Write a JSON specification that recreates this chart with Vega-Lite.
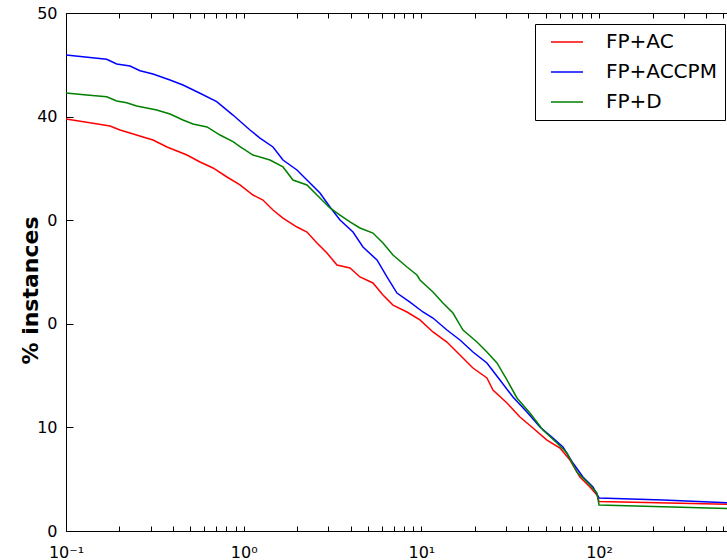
{
  "$schema": "https://vega.github.io/schema/vega-lite/v6.json",
  "width": 661,
  "height": 518,
  "autosize": {"type": "none"},
  "padding": {"left": 66, "top": 13, "right": 0, "bottom": 29},
  "background": "white",
  "config": {
    "font": "DejaVu Sans",
    "view": {"stroke": null},
    "axis": {
      "domainColor": "black",
      "domainWidth": 1,
      "labelColor": "black",
      "labelFont": "DejaVu Sans",
      "labelFontSize": 16,
      "labelFlush": false,
      "labelOverlap": false,
      "labelBound": false
    }
  },
  "data": {
    "values": [
      {"s": "FP+AC", "x": 0.1, "y": 39.77},
      {"s": "FP+AC", "x": 0.1419, "y": 39.35},
      {"s": "FP+AC", "x": 0.1768, "y": 39.09},
      {"s": "FP+AC", "x": 0.2013, "y": 38.71},
      {"s": "FP+AC", "x": 0.2292, "y": 38.42},
      {"s": "FP+AC", "x": 0.2713, "y": 38.03},
      {"s": "FP+AC", "x": 0.3088, "y": 37.74},
      {"s": "FP+AC", "x": 0.3702, "y": 37.07},
      {"s": "FP+AC", "x": 0.4214, "y": 36.68},
      {"s": "FP+AC", "x": 0.4797, "y": 36.29},
      {"s": "FP+AC", "x": 0.5678, "y": 35.62},
      {"s": "FP+AC", "x": 0.6719, "y": 35.04},
      {"s": "FP+AC", "x": 0.8054, "y": 34.17},
      {"s": "FP+AC", "x": 0.9532, "y": 33.4},
      {"s": "FP+AC", "x": 1.128, "y": 32.43},
      {"s": "FP+AC", "x": 1.284, "y": 31.95},
      {"s": "FP+AC", "x": 1.462, "y": 30.98},
      {"s": "FP+AC", "x": 1.664, "y": 30.21},
      {"s": "FP+AC", "x": 1.995, "y": 29.34},
      {"s": "FP+AC", "x": 2.271, "y": 28.86},
      {"s": "FP+AC", "x": 2.585, "y": 27.8},
      {"s": "FP+AC", "x": 2.943, "y": 26.83},
      {"s": "FP+AC", "x": 3.35, "y": 25.68},
      {"s": "FP+AC", "x": 3.965, "y": 25.39},
      {"s": "FP+AC", "x": 4.513, "y": 24.52},
      {"s": "FP+AC", "x": 5.341, "y": 23.94},
      {"s": "FP+AC", "x": 6.081, "y": 22.78},
      {"s": "FP+AC", "x": 6.922, "y": 21.81},
      {"s": "FP+AC", "x": 8.299, "y": 21.14},
      {"s": "FP+AC", "x": 9.819, "y": 20.37},
      {"s": "FP+AC", "x": 11.62, "y": 19.21},
      {"s": "FP+AC", "x": 13.93, "y": 18.24},
      {"s": "FP+AC", "x": 16.49, "y": 16.99},
      {"s": "FP+AC", "x": 19.52, "y": 15.73},
      {"s": "FP+AC", "x": 23.39, "y": 14.77},
      {"s": "FP+AC", "x": 25.29, "y": 13.61},
      {"s": "FP+AC", "x": 30.32, "y": 12.36},
      {"s": "FP+AC", "x": 35.88, "y": 11.0},
      {"s": "FP+AC", "x": 42.46, "y": 9.94},
      {"s": "FP+AC", "x": 50.92, "y": 8.78},
      {"s": "FP+AC", "x": 60.26, "y": 8.01},
      {"s": "FP+AC", "x": 68.59, "y": 6.85},
      {"s": "FP+AC", "x": 78.07, "y": 5.21},
      {"s": "FP+AC", "x": 88.88, "y": 4.25},
      {"s": "FP+AC", "x": 97.31, "y": 3.47},
      {"s": "FP+AC", "x": 100, "y": 2.85},
      {"s": "FP+AC", "x": 525, "y": 2.57},
      {"s": "FP+ACCPM", "x": 0.1, "y": 45.95},
      {"s": "FP+ACCPM", "x": 0.1694, "y": 45.53},
      {"s": "FP+ACCPM", "x": 0.1929, "y": 45.08},
      {"s": "FP+ACCPM", "x": 0.2292, "y": 44.88},
      {"s": "FP+ACCPM", "x": 0.2609, "y": 44.43},
      {"s": "FP+ACCPM", "x": 0.3088, "y": 44.11},
      {"s": "FP+ACCPM", "x": 0.3849, "y": 43.53},
      {"s": "FP+ACCPM", "x": 0.4554, "y": 43.05},
      {"s": "FP+ACCPM", "x": 0.5678, "y": 42.25},
      {"s": "FP+ACCPM", "x": 0.7049, "y": 41.44},
      {"s": "FP+ACCPM", "x": 0.8706, "y": 40.15},
      {"s": "FP+ACCPM", "x": 1.085, "y": 38.71},
      {"s": "FP+ACCPM", "x": 1.235, "y": 37.93},
      {"s": "FP+ACCPM", "x": 1.462, "y": 37.07},
      {"s": "FP+ACCPM", "x": 1.664, "y": 35.81},
      {"s": "FP+ACCPM", "x": 1.995, "y": 34.85},
      {"s": "FP+ACCPM", "x": 2.361, "y": 33.59},
      {"s": "FP+ACCPM", "x": 2.688, "y": 32.63},
      {"s": "FP+ACCPM", "x": 3.059, "y": 31.27},
      {"s": "FP+ACCPM", "x": 3.484, "y": 30.02},
      {"s": "FP+ACCPM", "x": 4.123, "y": 28.86},
      {"s": "FP+ACCPM", "x": 4.692, "y": 27.41},
      {"s": "FP+ACCPM", "x": 5.626, "y": 26.16},
      {"s": "FP+ACCPM", "x": 6.404, "y": 24.52},
      {"s": "FP+ACCPM", "x": 7.29, "y": 22.97},
      {"s": "FP+ACCPM", "x": 8.627, "y": 22.1},
      {"s": "FP+ACCPM", "x": 10.21, "y": 21.14},
      {"s": "FP+ACCPM", "x": 11.62, "y": 20.56},
      {"s": "FP+ACCPM", "x": 13.93, "y": 19.4},
      {"s": "FP+ACCPM", "x": 16.49, "y": 18.44},
      {"s": "FP+ACCPM", "x": 19.52, "y": 17.28},
      {"s": "FP+ACCPM", "x": 23.39, "y": 16.22},
      {"s": "FP+ACCPM", "x": 27.69, "y": 14.58},
      {"s": "FP+ACCPM", "x": 32.77, "y": 12.93},
      {"s": "FP+ACCPM", "x": 39.29, "y": 11.49},
      {"s": "FP+ACCPM", "x": 46.49, "y": 10.04},
      {"s": "FP+ACCPM", "x": 55.04, "y": 8.98},
      {"s": "FP+ACCPM", "x": 62.65, "y": 8.11},
      {"s": "FP+ACCPM", "x": 71.3, "y": 6.56},
      {"s": "FP+ACCPM", "x": 81.18, "y": 5.21},
      {"s": "FP+ACCPM", "x": 92.38, "y": 4.25},
      {"s": "FP+ACCPM", "x": 100, "y": 3.19},
      {"s": "FP+ACCPM", "x": 228.9, "y": 3.0},
      {"s": "FP+ACCPM", "x": 525, "y": 2.73},
      {"s": "FP+D", "x": 0.1, "y": 42.28},
      {"s": "FP+D", "x": 0.1307, "y": 42.08},
      {"s": "FP+D", "x": 0.1694, "y": 41.92},
      {"s": "FP+D", "x": 0.1929, "y": 41.51},
      {"s": "FP+D", "x": 0.2196, "y": 41.34},
      {"s": "FP+D", "x": 0.25, "y": 41.02},
      {"s": "FP+D", "x": 0.324, "y": 40.64},
      {"s": "FP+D", "x": 0.3849, "y": 40.25},
      {"s": "FP+D", "x": 0.4554, "y": 39.67},
      {"s": "FP+D", "x": 0.5184, "y": 39.29},
      {"s": "FP+D", "x": 0.6217, "y": 39.0},
      {"s": "FP+D", "x": 0.7357, "y": 38.22},
      {"s": "FP+D", "x": 0.8706, "y": 37.58},
      {"s": "FP+D", "x": 0.9532, "y": 37.1},
      {"s": "FP+D", "x": 1.128, "y": 36.29},
      {"s": "FP+D", "x": 1.406, "y": 35.81},
      {"s": "FP+D", "x": 1.664, "y": 35.14},
      {"s": "FP+D", "x": 1.894, "y": 33.88},
      {"s": "FP+D", "x": 2.271, "y": 33.4},
      {"s": "FP+D", "x": 2.585, "y": 32.43},
      {"s": "FP+D", "x": 3.059, "y": 31.18},
      {"s": "FP+D", "x": 3.484, "y": 30.5},
      {"s": "FP+D", "x": 3.965, "y": 29.83},
      {"s": "FP+D", "x": 4.513, "y": 29.25},
      {"s": "FP+D", "x": 5.341, "y": 28.76},
      {"s": "FP+D", "x": 6.081, "y": 27.8},
      {"s": "FP+D", "x": 6.922, "y": 26.64},
      {"s": "FP+D", "x": 8.299, "y": 25.48},
      {"s": "FP+D", "x": 9.445, "y": 24.71},
      {"s": "FP+D", "x": 9.819, "y": 24.23},
      {"s": "FP+D", "x": 11.62, "y": 23.07},
      {"s": "FP+D", "x": 13.23, "y": 22.01},
      {"s": "FP+D", "x": 15.06, "y": 21.04},
      {"s": "FP+D", "x": 17.15, "y": 19.4},
      {"s": "FP+D", "x": 20.56, "y": 18.24},
      {"s": "FP+D", "x": 23.39, "y": 17.28},
      {"s": "FP+D", "x": 26.64, "y": 16.22},
      {"s": "FP+D", "x": 30.32, "y": 14.58},
      {"s": "FP+D", "x": 34.52, "y": 12.84},
      {"s": "FP+D", "x": 40.84, "y": 11.39},
      {"s": "FP+D", "x": 48.33, "y": 9.75},
      {"s": "FP+D", "x": 57.97, "y": 8.49},
      {"s": "FP+D", "x": 65.98, "y": 7.53},
      {"s": "FP+D", "x": 75.09, "y": 5.69},
      {"s": "FP+D", "x": 88.88, "y": 4.44},
      {"s": "FP+D", "x": 97.31, "y": 3.67},
      {"s": "FP+D", "x": 100, "y": 2.51},
      {"s": "FP+D", "x": 525, "y": 2.18}
    ]
  },
  "layer": [
    {
      "transform": [{"filter": "datum.s == 'FP+AC'"}],
      "mark": {"type": "line", "strokeWidth": 1.5, "clip": true},
      "encoding": {
        "x": {
          "field": "x",
          "type": "quantitative",
          "scale": {"type": "log", "domain": [0.1, 525], "nice": false},
          "axis": {
            "orient": "top",
            "offset": -518,
            "title": null,
            "grid": false,
            "ticks": true,
            "tickSize": 5,
            "tickWidth": 1,
            "tickColor": "black",
            "values": [0.1, 0.2, 0.3, 0.4, 0.5, 0.6, 0.7, 0.8, 0.9, 1, 2, 3, 4, 5, 6, 7, 8, 9, 10, 20, 30, 40, 50, 60, 70, 80, 90, 100, 200, 300, 400, 500],
            "labelExpr": "datum.value == 0.1 ? '10⁻¹' : datum.value == 1 ? '10⁰' : datum.value == 10 ? '10¹' : datum.value == 100 ? '10²' : ''",
            "labelBaseline": "top",
            "labelPadding": -18
          }
        },
        "y": {
          "field": "y",
          "type": "quantitative",
          "scale": {"domain": [0, 50], "nice": false},
          "axis": {
            "orient": "left",
            "grid": false,
            "ticks": true,
            "tickSize": -7,
            "tickWidth": 1,
            "tickColor": "black",
            "values": [0, 10, 20, 30, 40, 50],
            "labelExpr": "datum.value == 20 || datum.value == 30 ? '0' : datum.label",
            "labelAlign": "right",
            "labelPadding": 16,
            "title": "% instances",
            "titleFont": "DejaVu Sans",
            "titleFontSize": 22,
            "titleFontWeight": "bold",
            "titleColor": "black",
            "titleAngle": -90,
            "titleAlign": "center",
            "titleBaseline": "middle",
            "titleX": -36,
            "titleY": 277
          }
        },
        "color": {
          "field": "s",
          "type": "nominal",
          "scale": {"domain": ["FP+AC", "FP+ACCPM", "FP+D"], "range": ["#ff0000", "#0000ff", "#008000"]},
          "legend": {
            "title": null,
            "orient": "none",
            "legendX": 469,
            "legendY": 11,
            "strokeColor": "black",
            "fillColor": "white",
            "padding": 8,
            "cornerRadius": 0,
            "symbolType": "M-2,0H2",
            "symbolSize": 256,
            "symbolStrokeWidth": 1.5,
            "symbolOffset": 14,
            "labelOffset": 29,
            "labelFont": "DejaVu Sans",
            "labelFontSize": 20,
            "labelColor": "black",
            "rowPadding": 10
          }
        }
      }
    },
    {
      "transform": [{"filter": "datum.s != 'FP+AC'"}],
      "mark": {"type": "line", "strokeWidth": 1.5, "clip": true},
      "encoding": {
        "x": {
          "field": "x",
          "type": "quantitative",
          "scale": {"type": "log", "domain": [0.1, 525], "nice": false},
          "axis": {
            "orient": "bottom",
            "offset": -518,
            "title": null,
            "labels": false,
            "grid": false,
            "ticks": true,
            "tickSize": 5,
            "tickWidth": 1,
            "tickColor": "black",
            "values": [0.1, 0.2, 0.3, 0.4, 0.5, 0.6, 0.7, 0.8, 0.9, 1, 2, 3, 4, 5, 6, 7, 8, 9, 10, 20, 30, 40, 50, 60, 70, 80, 90, 100, 200, 300, 400, 500]
          }
        },
        "y": {"field": "y", "type": "quantitative", "axis": null},
        "color": {"field": "s", "type": "nominal"}
      }
    }
  ],
  "resolve": {"axis": {"x": "independent", "y": "independent"}}
}
